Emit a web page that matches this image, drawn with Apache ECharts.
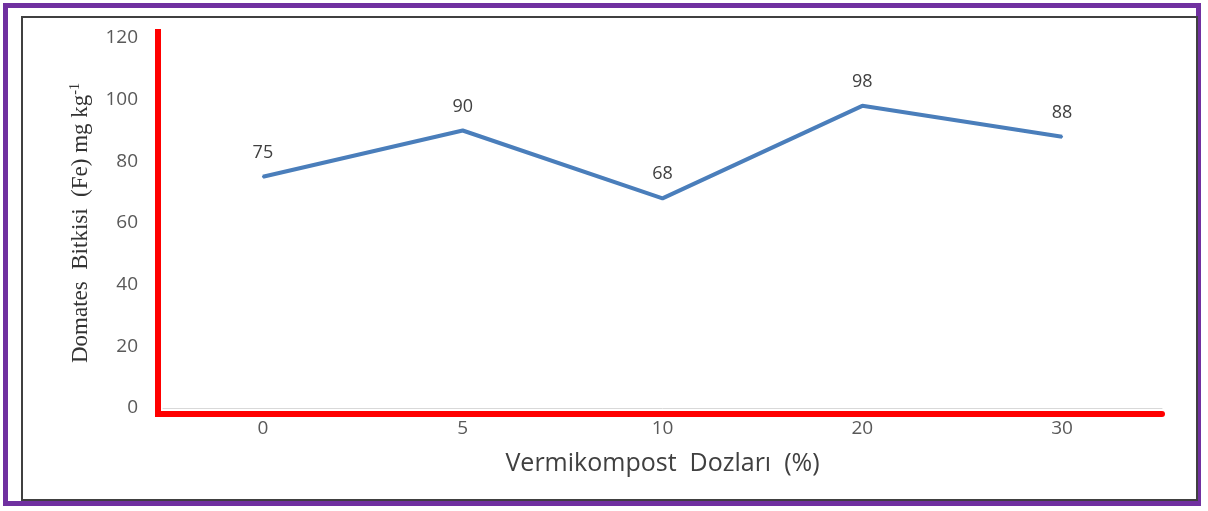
<!DOCTYPE html>
<html>
<head>
<meta charset="utf-8">
<script src="https://cdn.jsdelivr.net/npm/echarts@6/dist/echarts.min.js"></script>
<style>
  html, body { margin: 0; padding: 0; background: #fff; }
  #outer {
    position: absolute; left: 3px; top: 3px; width: 1198px; height: 503px;
    border: 5px solid #7030a0; box-sizing: border-box;
  }
  #frame {
    position: absolute; left: 21px; top: 16px; width: 1177px; height: 485px;
    border: 2px solid #404040; box-sizing: border-box;
  }
  #chart { position: absolute; left: 0; top: 0; width: 1208px; height: 511px; }
</style>
</head>
<body>
<div id="outer"></div>
<div id="frame"></div>
<div id="chart"></div>
<script>
// Vermikompost dozları (%) ve domates bitkisi Fe içeriği
const dozlar = ['0', '5', '10', '20', '30'];
const feDegerleri = [75, 90, 68, 98, 88];
const yEtiketleri = [0, 20, 40, 60, 80, 100, 120];

const chart = echarts.init(document.getElementById('chart'), null, { renderer: 'canvas' });

const kirmizi = '#ff0000';

chart.setOption({
  animation: false,
  grid: { left: 163, right: 46, top: 38, bottom: 103 },
  xAxis: [
    {
      // gri sıfır çizgisi
      type: 'category',
      position: 'bottom',
      data: dozlar,
      axisLine: { show: true, onZero: false, lineStyle: { color: '#d9d9d9', width: 1 } },
      axisTick: { show: false },
      axisLabel: { show: false }
    },
    {
      // kırmızı eksen
      type: 'category',
      position: 'bottom',
      data: dozlar,
      offset: 6,
      axisLine: {
        show: true,
        onZero: false,
        symbol: ['rect', 'none'],
        symbolSize: [6, 16],
        lineStyle: { color: kirmizi, width: 6 }
      },
      axisTick: { show: false },
      axisLabel: { color: '#595959', fontSize: 19, margin: 5, fontFamily: 'Open Sans' },
      name: 'Vermikompost  Dozları  (%)',
      nameLocation: 'middle',
      nameGap: 37,
      nameTextStyle: { color: '#404040', fontSize: 25, fontFamily: 'Open Sans' }
    }
  ],
  yAxis: {
    type: 'value',
    min: 0,
    max: 120,
    interval: 20,
    offset: 5,
    axisLine: {
      show: true,
      symbol: ['rect', 'rect'],
      symbolSize: [6, 18],
      lineStyle: { color: kirmizi, width: 6 }
    },
    axisTick: { show: false },
    splitLine: { show: false },
    axisLabel: {
      color: '#595959', fontSize: 19, margin: 20, fontFamily: 'Open Sans',
      formatter: v => yEtiketleri.includes(v) ? String(v) : ''
    },
    name: '{a|Domates  Bitkisi  (Fe) mg kg}{s|-1}',
    nameLocation: 'middle',
    nameRotate: 90,
    nameGap: 64,
    nameTextStyle: {
      rich: {
        a: { fontFamily: 'Liberation Serif', fontSize: 23, color: '#333333' },
        s: { fontFamily: 'Liberation Serif', fontSize: 14, color: '#333333', verticalAlign: 'top', padding: [0, 0, 12, 0] }
      }
    }
  },
  series: [
    {
      type: 'line',
      data: feDegerleri,
      xAxisIndex: 1,
      symbol: 'circle',
      symbolSize: 2,
      showSymbol: true,
      itemStyle: { color: '#4a7ebb' },
      lineStyle: { color: '#4a7ebb', width: 4 },
      label: {
        show: true,
        position: 'top',
        distance: 14,
        color: '#404040',
        fontSize: 18,
        fontFamily: 'Open Sans'
      }
    }
  ]
});
</script>
</body>
</html>
